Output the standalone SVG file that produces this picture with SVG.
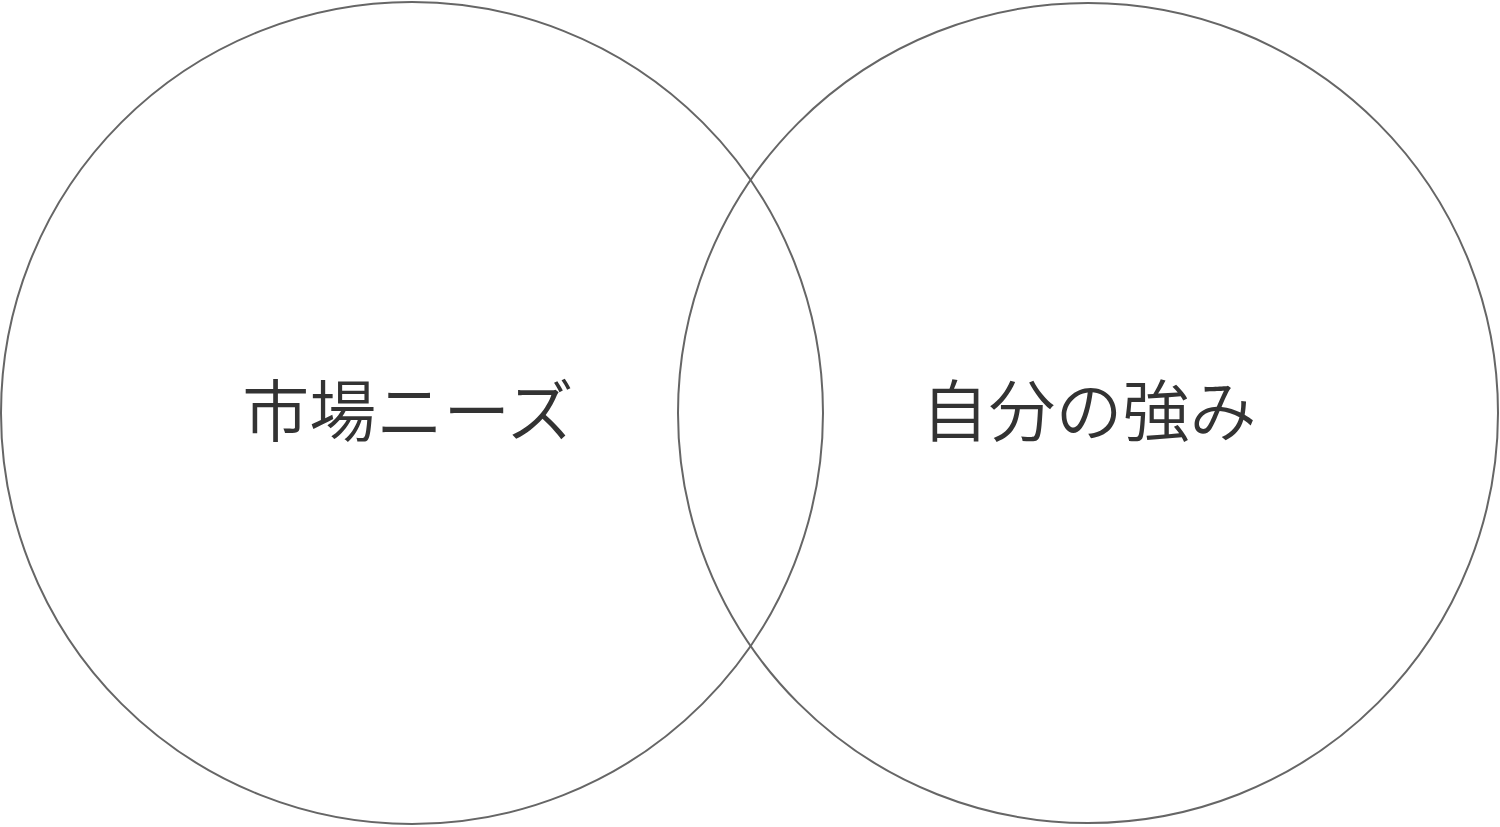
<svg xmlns="http://www.w3.org/2000/svg" width="1500" height="827" viewBox="0 0 1500 827">
<style>
.c{fill:none;stroke:#666;stroke-width:2}
.t{font-family:"Noto Sans CJK JP","Noto Sans",sans-serif;font-size:67px;font-weight:350;fill:#333;text-anchor:middle}
</style>
<rect width="1500" height="827" fill="#fff"/>
<g id="market">
<circle class="c" cx="412" cy="413" r="411"/>
<text class="t" x="408" y="436">市場ニーズ</text>
</g>
<g id="strength">
<circle class="c" cx="1088" cy="413" r="410"/>
<text class="t" x="1089" y="436">自分の強み</text>
</g>
<g id="connectors"></g>
</svg>
